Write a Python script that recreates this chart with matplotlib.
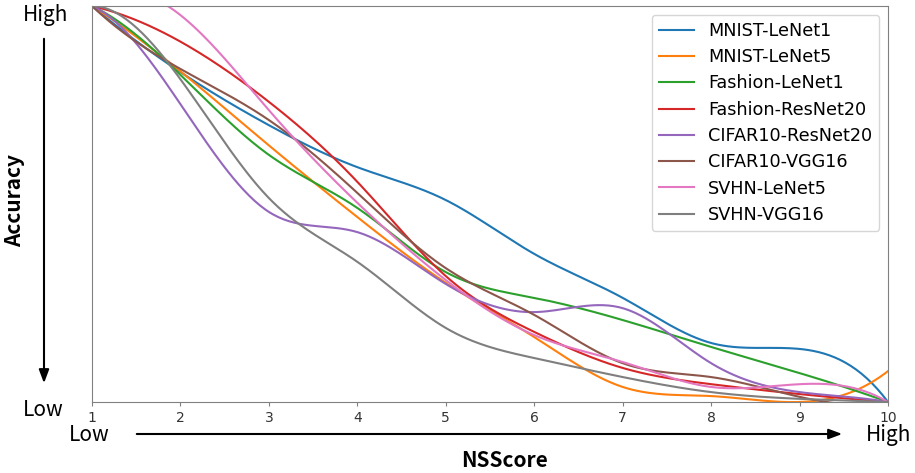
import matplotlib.pyplot as plt
import numpy as np

# NSScore levels (x) and normalised accuracy per model (0 = low, 1 = high)
nsscore = [1, 2, 3, 4, 5, 6, 7, 8, 9, 10]
mnist_lenet1 = [1.000, 0.833, 0.699, 0.593, 0.510, 0.374, 0.263, 0.149, 0.134, 0.000]
mnist_lenet5 = [1.000, 0.835, 0.648, 0.467, 0.301, 0.164, 0.038, 0.015, 0.000, 0.078]
fashion_lenet1 = [1.000, 0.826, 0.624, 0.490, 0.328, 0.263, 0.207, 0.139, 0.073, 0.000]
fashion_resnet20 = [1.000, 0.910, 0.758, 0.556, 0.318, 0.177, 0.086, 0.045, 0.020, 0.000]
cifar10_resnet20 = [1.000, 0.752, 0.480, 0.429, 0.298, 0.227, 0.237, 0.098, 0.025, 0.000]
cifar10_vgg16 = [1.000, 0.841, 0.712, 0.528, 0.338, 0.220, 0.098, 0.063, 0.013, 0.000]
svhn_lenet5 = [1.000, 0.977, 0.737, 0.503, 0.308, 0.169, 0.101, 0.038, 0.045, 0.000]
svhn_vgg16 = [1.000, 0.815, 0.515, 0.354, 0.187, 0.111, 0.063, 0.025, 0.008, 0.000]

series = [
    ('MNIST-LeNet1', mnist_lenet1),
    ('MNIST-LeNet5', mnist_lenet5),
    ('Fashion-LeNet1', fashion_lenet1),
    ('Fashion-ResNet20', fashion_resnet20),
    ('CIFAR10-ResNet20', cifar10_resnet20),
    ('CIFAR10-VGG16', cifar10_vgg16),
    ('SVHN-LeNet5', svhn_lenet5),
    ('SVHN-VGG16', svhn_vgg16),
]


def smooth(x, y, num=300):
    # cubic spline (not-a-knot ends) drawn through the data points
    x = np.asarray(x, float)
    y = np.asarray(y, float)
    n = len(x)
    h = np.diff(x)
    A = np.zeros((n, n))
    b = np.zeros(n)
    for i in range(1, n - 1):
        A[i, i - 1] = h[i - 1]
        A[i, i] = 2 * (h[i - 1] + h[i])
        A[i, i + 1] = h[i]
        b[i] = 6 * ((y[i + 1] - y[i]) / h[i] - (y[i] - y[i - 1]) / h[i - 1])
    A[0, 0], A[0, 1], A[0, 2] = h[1], -(h[0] + h[1]), h[0]
    A[-1, -3], A[-1, -2], A[-1, -1] = h[-1], -(h[-2] + h[-1]), h[-2]
    M = np.linalg.solve(A, b)
    xs = np.linspace(x[0], x[-1], num)
    idx = np.clip(np.searchsorted(x, xs) - 1, 0, n - 2)
    x0, x1 = x[idx], x[idx + 1]
    hh = x1 - x0
    ys = (M[idx] * (x1 - xs) ** 3 / (6 * hh) + M[idx + 1] * (xs - x0) ** 3 / (6 * hh)
          + (y[idx] / hh - M[idx] * hh / 6) * (x1 - xs)
          + (y[idx + 1] / hh - M[idx + 1] * hh / 6) * (xs - x0))
    return xs, ys


W, H = 915, 473
fig = plt.figure(figsize=(W / 100, H / 100), dpi=100)
ax = fig.add_axes([92 / W, 1 - 402 / H, (888 - 92) / W, (402 - 6) / H])

for name, vals in series:
    xs, ys = smooth(nsscore, vals)
    ax.plot(xs, ys, lw=1.5, label=name)

ax.set_xlim(1, 10)
ax.set_ylim(0, 1)
ax.set_xticks(nsscore)
ax.set_yticks([])
ax.tick_params(axis='x', labelsize=10, colors='#808080', labelcolor='#333333', length=3)
for s in ax.spines.values():
    s.set_color('#808080')

ax.legend(loc='upper right', prop={'family': 'DejaVu Sans', 'size': 12.7}, labelspacing=0.47)

lab_font = ['Noto Sans CJK SC', 'DejaVu Sans']
fig.text(46 / W, 1 - 15 / H, 'High', ha='center', va='center', fontsize=15, family=lab_font, fontweight='light')
fig.text(43 / W, 1 - 410 / H, 'Low', ha='center', va='center', fontsize=15, family=lab_font, fontweight='light')
fig.text(89 / W, 1 - 435 / H, 'Low', ha='center', va='center', fontsize=15, family=lab_font, fontweight='light')
fig.text(889 / W, 1 - 435 / H, 'High', ha='center', va='center', fontsize=15, family=lab_font, fontweight='light')
fig.text(15 / W, 1 - 200 / H, 'Accuracy', ha='center', va='center', rotation=90, fontsize=15,
         family=lab_font, fontweight='bold')
fig.text(505 / W, 1 - 460 / H, 'NSScore', ha='center', va='center', fontsize=15,
         family=lab_font, fontweight='bold')

arrow = dict(arrowstyle='-|>,head_length=0.8,head_width=0.3', color='black', lw=1.5)
ax.annotate('', xy=(44, H - 386), xytext=(44, H - 36), xycoords='figure pixels',
            textcoords='figure pixels', arrowprops=arrow)
ax.annotate('', xy=(845, H - 434), xytext=(134, H - 434), xycoords='figure pixels',
            textcoords='figure pixels', arrowprops=arrow)

fig.savefig('out.png', dpi=100)
